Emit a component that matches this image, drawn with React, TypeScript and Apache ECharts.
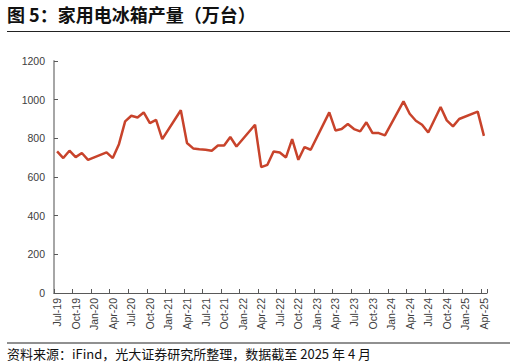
import React, { useEffect, useRef } from "react";
import * as echarts from "echarts";

const TITLE = "图 5：家用电冰箱产量（万台）";
const SOURCE = "资料来源：iFind，光大证券研究所整理，数据截至 2025 年 4 月";

const categories = [
  "Jul-19", "Aug-19", "Sep-19", "Oct-19", "Nov-19", "Dec-19",
  "Jan-20", "Feb-20", "Mar-20", "Apr-20", "May-20", "Jun-20", "Jul-20", "Aug-20", "Sep-20", "Oct-20", "Nov-20", "Dec-20",
  "Jan-21", "Feb-21", "Mar-21", "Apr-21", "May-21", "Jun-21", "Jul-21", "Aug-21", "Sep-21", "Oct-21", "Nov-21", "Dec-21",
  "Jan-22", "Feb-22", "Mar-22", "Apr-22", "May-22", "Jun-22", "Jul-22", "Aug-22", "Sep-22", "Oct-22", "Nov-22", "Dec-22",
  "Jan-23", "Feb-23", "Mar-23", "Apr-23", "May-23", "Jun-23", "Jul-23", "Aug-23", "Sep-23", "Oct-23", "Nov-23", "Dec-23",
  "Jan-24", "Feb-24", "Mar-24", "Apr-24", "May-24", "Jun-24", "Jul-24", "Aug-24", "Sep-24", "Oct-24", "Nov-24", "Dec-24",
  "Jan-25", "Feb-25", "Mar-25", "Apr-25",
];

const production: (number | null)[] = [
  732, 698, 736, 703, 724, 689,
  null, null, 727, 698, 770, 888, 917, 908, 934, 879, 896, 796,
  null, null, 945, 776, 748, 744, 741, 736, 763, 763, 807, 758,
  null, null, 870, 651, 663, 732, 727, 701, 796, 689, 755, 741,
  null, null, 934, 841, 848, 874, 848, 836, 883, 827, 827, 815,
  null, null, 991, 927, 891, 870, 830, 896, 962, 893, 862, 900,
  null, null, 938, 813,
];

const yTicks = { min: 0, max: 1200, interval: 200 };

export default function App() {
  const ref = useRef<HTMLDivElement>(null);
  useEffect(() => {
    document.body.style.margin = "0";
    if (!ref.current) return;
    const chart = echarts.init(ref.current, null, { renderer: "svg" });
    chart.setOption({
      animation: false,
      backgroundColor: "#ffffff",
      grid: { left: 54, right: 29, top: 61, bottom: 71, containLabel: false },
      xAxis: {
        type: "category",
        data: categories,
        boundaryGap: true,
        axisLine: { lineStyle: { color: "#595959", width: 1 } },
        axisTick: { show: true, inside: true, interval: 2, length: 4, lineStyle: { color: "#595959" } },
        axisLabel: {
          interval: 2,
          rotate: 90,
          fontSize: 10.5,
          color: "#404040",
          fontFamily: "Liberation Sans, Arial, sans-serif",
          margin: 5,
        },
        splitLine: { show: false },
      },
      yAxis: {
        type: "value",
        min: yTicks.min,
        max: yTicks.max,
        interval: yTicks.interval,
        axisLine: { show: true, lineStyle: { color: "#a6a6a6", width: 2 } },
        axisTick: { show: true, inside: true, length: 4, lineStyle: { color: "#595959" } },
        axisLabel: {
          fontSize: 10.5,
          color: "#404040",
          fontFamily: "Liberation Sans, Arial, sans-serif",
          margin: 9,
          formatter: (v: number) => String(v),
        },
        splitLine: { show: false },
      },
      series: [
        {
          type: "line",
          data: production,
          connectNulls: true,
          symbol: "none",
          lineStyle: { color: "#C8432B", width: 2.5 },
          itemStyle: { color: "#C8432B" },
        },
      ],
      graphic: [
        {
          type: "text",
          x: 7,
          y: 14,
          style: {
            text: TITLE,
            font: "bold 18px 'Noto Sans CJK SC', sans-serif",
            fill: "#111111",
            verticalAlign: "middle",
          },
        },
        {
          type: "line",
          shape: { x1: 7, y1: 31.5, x2: 510, y2: 31.5 },
          style: { stroke: "#222222", lineWidth: 1.2 },
        },
        {
          type: "line",
          shape: { x1: 7, y1: 343, x2: 510, y2: 343 },
          style: { stroke: "#222222", lineWidth: 1.2 },
        },
        {
          type: "text",
          x: 7,
          y: 353,
          style: {
            text: SOURCE,
            font: "13px 'Noto Sans CJK SC', sans-serif",
            fill: "#111111",
            verticalAlign: "middle",
          },
        },
      ],
    });
    return () => chart.dispose();
  }, []);
  return <div ref={ref} style={{ width: 516, height: 364 }} />;
}
